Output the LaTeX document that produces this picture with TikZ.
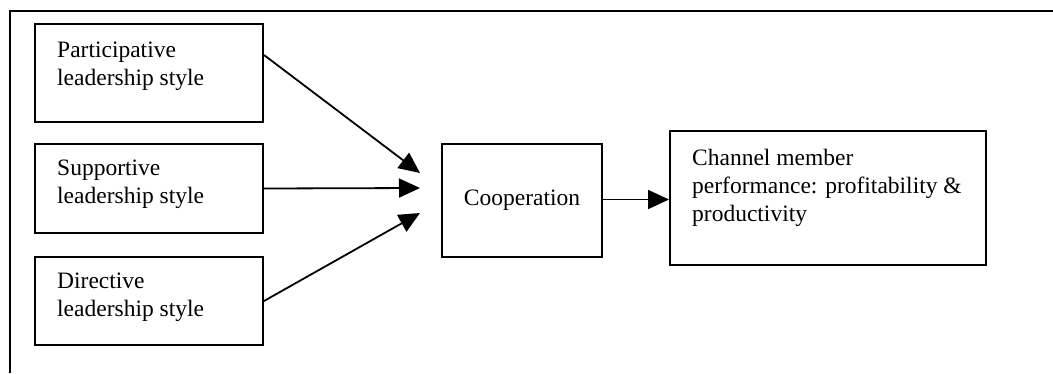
\documentclass[tikz,border=0pt]{standalone}
\usepackage{fontspec}
\setmainfont{Liberation Serif}
\usetikzlibrary{arrows.meta}
\begin{document}
\begin{tikzpicture}[x=1pt,y=-1pt,
  box/.style={draw, line width=2pt, inner sep=0pt, anchor=north west},
  boxtext/.style={inner sep=0pt, align=left, anchor=base west,
    font=\fontsize{23.5}{28}\selectfont},
  link/.style={line width=1.8pt, -{Triangle[length=21pt,width=19pt]}}]
  \useasboundingbox (0,0) rectangle (1053,373);
  % open frame: top and left edges only
  \draw[line width=2pt] (1053,11) coordinate (frameR) -- (10,11) coordinate (frameC) -- (10,373) coordinate (frameB);

  % the three leadership styles (base anchor sits on the last text line)
  \node[box, minimum width=228pt, minimum height=98pt] (part) at (34,23) {};
  \node[boxtext] (partT) at ([xshift=23pt, yshift=-62pt]part.north west) {Participative\\leadership style};
  \node[box, minimum width=228pt, minimum height=89pt] (supp) at (34,143) {};
  \node[boxtext] (suppT) at ([xshift=23pt, yshift=-60pt]supp.north west) {Supportive\\leadership style};
  \node[box, minimum width=228pt, minimum height=88pt] (dir) at (34,256) {};
  \node[boxtext] (dirT) at ([xshift=23pt, yshift=-60pt]dir.north west) {Directive\\leadership style};

  % mediator and outcome
  \node[box, minimum width=160pt, minimum height=113pt] (coop) at (441,143) {};
  \node[inner sep=0pt, font=\fontsize{23.5}{28}\selectfont] (coopT) at (coop.center) {Cooperation};
  \node[box, minimum width=316pt, minimum height=134pt] (chan) at (669,130) {};
  \node[boxtext] (chanT) at ([xshift=23pt, yshift=-91pt]chan.north west) {Channel member\\performance: profitability \&\\productivity};

  % arrow tips in front of the cooperation box
  \coordinate (t1) at (420,173);
  \coordinate (t2) at (420,188);
  \coordinate (t3) at (420,213);

  \draw[link] ([yshift=18pt]part.east) -- (t1);
  \draw[link] (supp.east) -- (t2);
  \draw[link] (dir.east) -- (t3);
  \draw[link] ([yshift=1pt]coop.east) -- ([yshift=1pt]coop.east -| chan.west);
\end{tikzpicture}
\end{document}
